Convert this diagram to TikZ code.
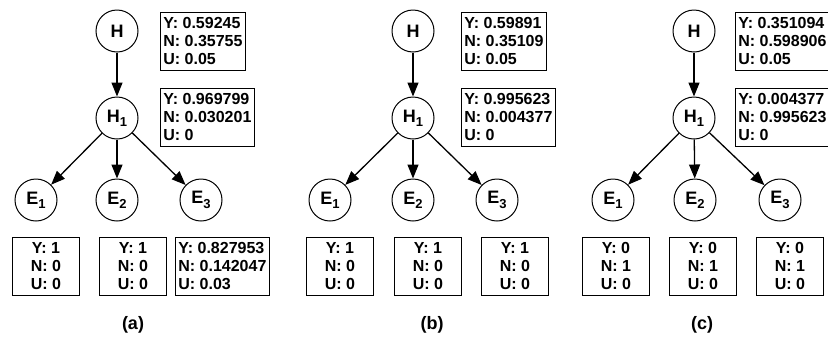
\documentclass[tikz,border=0pt]{standalone}
\usepackage{fontspec}
\setmainfont{Liberation Sans}
\usetikzlibrary{arrows.meta}

\newcommand{\lowidx}[1]{\raisebox{-0.45ex}{\fontsize{13}{13}\selectfont #1}}

\tikzset{
	var/.style = {circle, draw, line width=1pt, minimum size=42pt, inner sep=0pt,
		font=\bfseries\fontsize{18}{18}\selectfont},
	prob/.style = {draw, line width=0.8pt, inner xsep=3pt, inner ysep=2pt, align=left,
		anchor=west, minimum height=58pt, font=\bfseries\fontsize{16}{18.4}\selectfont},
	cprob/.style = {prob, align=center, anchor=center, minimum width=67pt},
	link/.style = {-{Triangle[length=14pt,width=11pt]}, line width=1.3pt},
	tag/.style = {font=\bfseries\fontsize{18}{18}\selectfont}
}

\begin{document}
\begin{tikzpicture}[x=1pt, y=-1pt]
	\clip ( 0, 0 ) rectangle ( 828, 341 );

	% (a)
	\node [var] (Ha)  at ( 117,  31 ) {H};
	\node [var] (H1a) at ( 117, 118 ) {H\lowidx{1}};
	\node [var] (E1a) at (  36, 200 ) {E\lowidx{1}};
	\node [var] (E2a) at ( 117, 200 ) {E\lowidx{2}};
	\node [var] (E3a) at ( 201, 200 ) {E\lowidx{3}};
	\draw [link] (Ha)  -- (H1a);
	\draw [link] (H1a) -- (E1a);
	\draw [link] (H1a) -- (E2a);
	\draw [link] (H1a) -- (E3a);
	\node [prob] (pHa)  at ( 160,  41 ) {Y: 0.59245\\N: 0.35755\\U: 0.05};
	\node [prob] (pH1a) at ( 160, 117 ) {Y: 0.969799\\N: 0.030201\\U: 0};
	\node [cprob] (pE1a) at (  46, 266 ) {Y: 1\\N: 0\\U: 0};
	\node [cprob] (pE2a) at ( 133, 266 ) {Y: 1\\N: 0\\U: 0};
	\node [prob] (pE3a) at ( 175, 266 ) {Y: 0.827953\\N: 0.142047\\U: 0.03};
	\node [tag] (ta) at ( 133, 325 ) {(a)};

	% (b)
	\node [var] (Hb)  at ( 413,  31 ) {H};
	\node [var] (H1b) at ( 413, 118 ) {H\lowidx{1}};
	\node [var] (E1b) at ( 330, 200 ) {E\lowidx{1}};
	\node [var] (E2b) at ( 413, 200 ) {E\lowidx{2}};
	\node [var] (E3b) at ( 497, 200 ) {E\lowidx{3}};
	\draw [link] (Hb)  -- (H1b);
	\draw [link] (H1b) -- (E1b);
	\draw [link] (H1b) -- (E2b);
	\draw [link] (H1b) -- (E3b);
	\node [prob] (pHb)  at ( 461,  41 ) {Y: 0.59891\\N: 0.35109\\U: 0.05};
	\node [prob] (pH1b) at ( 461, 117 ) {Y: 0.995623\\N: 0.004377\\U: 0};
	\node [cprob] (pE1b) at ( 340, 266 ) {Y: 1\\N: 0\\U: 0};
	\node [cprob] (pE2b) at ( 428, 266 ) {Y: 1\\N: 0\\U: 0};
	\node [cprob] (pE3b) at ( 515, 266 ) {Y: 1\\N: 0\\U: 0};
	\node [tag] (tb) at ( 432, 325 ) {(b)};

	% (c)
	\node [var] (Hc)  at ( 694,  31 ) {H};
	\node [var] (H1c) at ( 694, 118 ) {H\lowidx{1}};
	\node [var] (E1c) at ( 613, 200 ) {E\lowidx{1}};
	\node [var] (E2c) at ( 695, 200 ) {E\lowidx{2}};
	\node [var] (E3c) at ( 780, 200 ) {E\lowidx{3}};
	\draw [link] (Hc)  -- (H1c);
	\draw [link] (H1c) -- (E1c);
	\draw [link] (H1c) -- (E2c);
	\draw [link] (H1c) -- (E3c);
	\node [prob] (pHc)  at ( 735,  41 ) {Y: 0.351094\\N: 0.598906\\U: 0.05};
	\node [prob] (pH1c) at ( 735, 117 ) {Y: 0.004377\\N: 0.995623\\U: 0};
	\node [cprob] (pE1c) at ( 616, 266 ) {Y: 0\\N: 1\\U: 0};
	\node [cprob] (pE2c) at ( 703, 266 ) {Y: 0\\N: 1\\U: 0};
	\node [cprob] (pE3c) at ( 790, 266 ) {Y: 0\\N: 1\\U: 0};
	\node [tag] (tc) at ( 702, 325 ) {(c)};
\end{tikzpicture}
\end{document}
